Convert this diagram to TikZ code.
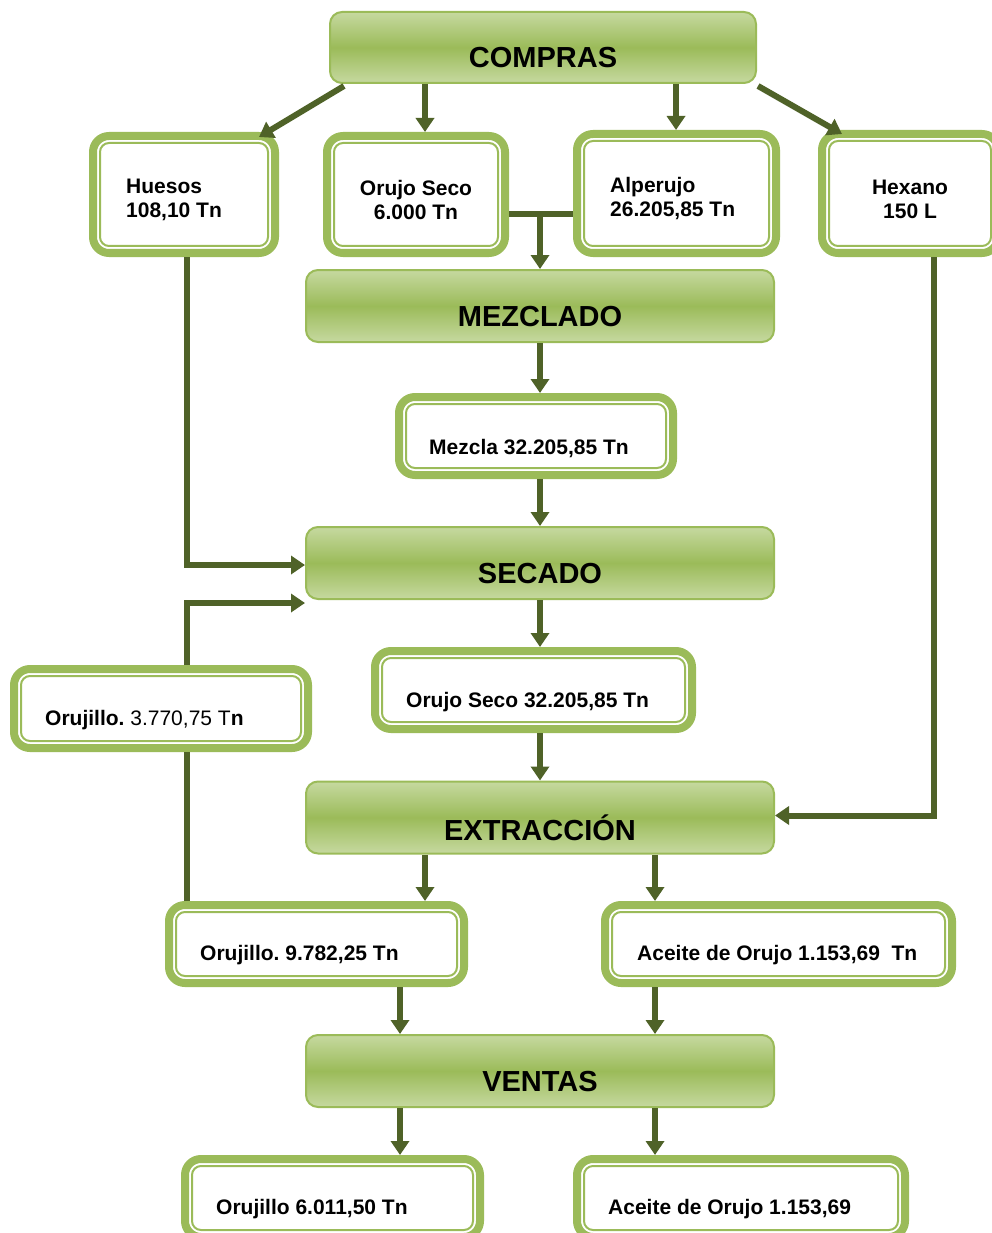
\documentclass[tikz,border=0pt]{standalone}
\usepackage{fontspec}
\setmainfont{Liberation Sans}
\usetikzlibrary{arrows.meta,calc}
\definecolor{vgreen}{HTML}{9BBB59}
\definecolor{lgreen}{HTML}{C6D9A0}
\definecolor{dgreen}{HTML}{4F6228}
\frenchspacing
\begin{document}
\begin{tikzpicture}[x=1pt,y=-1pt,
 proc/.style={draw=vgreen, line width=2pt, rounded corners=12pt, top color=lgreen, bottom color=lgreen, middle color=vgreen, inner sep=0, minimum width=468pt, minimum height=72pt},
 vbox/.style={draw=vgreen, line width=8pt, rounded corners=16pt, fill=white, inner sep=0, path picture={\draw[vgreen, line width=2pt, rounded corners=9pt] ([shift={(7pt,-7pt)}]path picture bounding box.north west) rectangle ([shift={(-7pt,7pt)}]path picture bounding box.south east);}},
 ttl/.style={font=\fontsize{29}{34}\selectfont\bfseries, inner sep=0},
 lbl/.style={font=\fontsize{21}{24}\selectfont\bfseries, inner sep=0},
 arr/.style={draw=dgreen, line width=6pt, -{Triangle[width=18pt,length=14pt]}},
 ln/.style={draw=dgreen, line width=6pt}]
\clip (0,0) rectangle (992,1233);
% process boxes
\node[proc, minimum width=426pt, minimum height=71pt] (compras) at (543,47.5) {};
\node[proc] (mezclado) at (540,306) {};
\node[proc] (secado) at (540,563) {};
\node[proc] (extr) at (540,817.5) {};
\node[proc] (ventas) at (540,1071) {};
\node[ttl] (tcompras) at (543,58) {COMPRAS};
\node[ttl] (tmezclado) at (540,317) {MEZCLADO};
\node[ttl] (tsecado) at (540,574) {SECADO};
\node[ttl] (textr) at (540,828) {EXTRACCIÓN};
\node[ttl] (tventas) at (540,1082) {VENTAS};
% value boxes
\node[vbox, minimum width=182pt, minimum height=117pt] (hue) at (184,194.5) {};
\node[vbox, minimum width=178pt, minimum height=117pt] (osec) at (416,194.5) {};
\node[vbox, minimum width=199pt, minimum height=119pt] (alp) at (676.5,193.5) {};
\node[vbox, minimum width=176pt, minimum height=119pt] (hex) at (910,193.5) {};
\node[vbox, minimum width=274pt, minimum height=78pt] (mez) at (536,436) {};
\node[vbox, minimum width=294pt, minimum height=79pt] (o3770) at (161,708.5) {};
\node[vbox, minimum width=317pt, minimum height=78pt] (osec2) at (533.5,690) {};
\node[vbox, minimum width=295pt, minimum height=78pt] (o9782) at (316.5,944) {};
\node[vbox, minimum width=347pt, minimum height=78pt] (ace1) at (778.5,944) {};
\node[vbox, minimum width=295pt, minimum height=78pt] (o6011) at (332.5,1198) {};
\node[vbox, minimum width=328pt, minimum height=78pt] (ace2) at (741,1198) {};
% texts
\node[lbl, anchor=west, align=left] (thue) at (126,200) {Huesos\\108,10 Tn};
\node[lbl, align=center] (tosec) at (416,200) {Orujo Seco\\6.000 Tn};
\node[lbl, anchor=west, align=left] (talp) at (610,199) {Alperujo\\26.205,85 Tn};
\node[lbl, align=center] (thex) at (910,199) {Hexano\\150 L};
\node[lbl, anchor=west] (tmez) at (429,449) {Mezcla 32.205,85 Tn};
\node[lbl, anchor=west] (to3770) at (45,720) {Orujillo. {\mdseries 3.770,75 T}n};
\node[lbl, anchor=west] (tosec2) at (406,702) {Orujo Seco 32.205,85 Tn};
\node[lbl, anchor=west] (to9782) at (200,955) {Orujillo. 9.782,25 Tn};
\node[lbl, anchor=west] (tace1) at (637,955) {Aceite de Orujo 1.153,69~~Tn};
\node[lbl, anchor=west] (to6011) at (216,1209) {Orujillo 6.011,50 Tn};
\node[lbl, anchor=west] (tace2) at (608,1209) {Aceite de Orujo 1.153,69};
% helper columns
\coordinate (cL) at (187,0);
\coordinate (c400) at (400,0);
\coordinate (c425) at (425,0);
\coordinate (c540) at (540,0);
\coordinate (c655) at (655,0);
\coordinate (c676) at (676,0);
\coordinate (c934) at (934,0);
\coordinate (cj) at (540,214);
% connectors
\draw[arr] ($(compras.south west)+(15,2)$) -- ($(hue.north east)+(-20,5)$);
\draw[arr] (compras.south -| c425) -- (osec.north -| c425);
\draw[arr] (compras.south -| c676) -- (alp.north -| c676);
\draw[arr] ($(compras.south east)+(1,2)$) -- ($(hex.north west)+(24,4)$);
\draw[ln] (osec.east |- cj) -- (alp.west |- cj);
\draw[arr] (cj) -- (mezclado.north -| cj);
\draw[arr] (mezclado.south -| c540) -- (mez.north -| c540);
\draw[arr] (mez.south -| c540) -- (secado.north -| c540);
\draw[arr] (hue.south -| cL) |- ($(secado.west)+(0,2)$);
\draw[ln] (o9782.north -| cL) -- (o3770.south -| cL);
\draw[arr] (o3770.north -| cL) |- ($(secado.south west)+(0,3)$);
\draw[arr] (secado.south -| c540) -- (osec2.north -| c540);
\draw[arr] (osec2.south -| c540) -- (extr.north -| c540);
\draw[arr] (hex.south -| c934) |- ($(extr.east)+(0,-2)$);
\draw[arr] (extr.south -| c425) -- (o9782.north -| c425);
\draw[arr] (extr.south -| c655) -- (ace1.north -| c655);
\draw[arr] (o9782.south -| c400) -- (ventas.north -| c400);
\draw[arr] (ace1.south -| c655) -- (ventas.north -| c655);
\draw[arr] (ventas.south -| c400) -- (o6011.north -| c400);
\draw[arr] (ventas.south -| c655) -- (ace2.north -| c655);
\end{tikzpicture}
\end{document}
